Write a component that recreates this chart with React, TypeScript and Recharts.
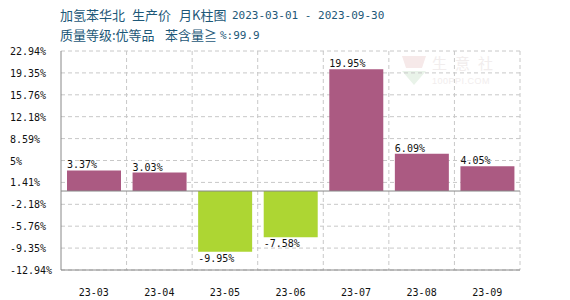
import React from 'react';
import {
  BarChart,
  Bar,
  XAxis,
  YAxis,
  CartesianGrid,
  ReferenceLine,
  LabelList,
  Cell,
} from 'recharts';

const months = ['23-03', '23-04', '23-05', '23-06', '23-07', '23-08', '23-09'];
const changes = [3.37, 3.03, -9.95, -7.58, 19.95, 6.09, 4.05];
const yTicks = [-12.94, -9.35, -5.76, -2.18, 1.41, 5, 8.59, 12.18, 15.76, 19.35, 22.94];

const data = months.map((m, i) => ({ month: m, change: changes[i] }));

const fmt = (v: number) => (Number.isInteger(v) ? `${v}%` : `${v.toFixed(2)}%`);

const mono = '"DejaVu Sans Mono", monospace';
const cjk = '"Noto Sans CJK SC", sans-serif';
const titleColor = '#1d5878';

function YTick(props: any) {
  const { y, payload } = props;
  return (
    <text x={10} y={y} dy={4} textAnchor="start" fontSize={10} fontFamily={mono} fill="#111">
      {fmt(payload.value)}
    </text>
  );
}

function XTick(props: any) {
  const { x, y, payload } = props;
  return (
    <text x={x} y={y} dy={18} textAnchor="middle" fontSize={10} fontFamily={mono} fill="#111">
      {payload.value}
    </text>
  );
}

function BarLabel(props: any) {
  const { x, y, height, value } = props;
  const top = Math.min(y, y + height);
  const bottom = Math.max(y, y + height);
  const ty = value >= 0 ? top - 2 : bottom + 10;
  return (
    <text x={x} y={ty} fontSize={10} fontFamily={mono} fill="#111">
      {value.toFixed(2)}%
    </text>
  );
}

function T({ x, y, font, size, children }: any) {
  return (
    <span style={{ position: 'absolute', left: x, top: y, fontFamily: font, fontSize: size, color: titleColor, whiteSpace: 'pre', lineHeight: '16px' }}>
      {children}
    </span>
  );
}

export default function App() {
  return (
    <div style={{ position: 'absolute', left: 0, top: 0, width: 570, height: 300, background: '#fff' }}>
      <T x={60} y={7} font={cjk} size={13}>加氢苯华北</T>
      <T x={132} y={7} font={cjk} size={13}>生产价</T>
      <T x={179} y={7} font={cjk} size={13}>月K柱图</T>
      <T x={232} y={8} font={mono} size={11}>2023-03-01 - 2023-09-30</T>
      <T x={60} y={27} font={cjk} size={13}>质量等级:优等品</T>
      <T x={165} y={27} font={cjk} size={13}>苯含量≧</T>
      <T x={220} y={28} font={mono} size={11}>%:99.9</T>
      <svg style={{ position: 'absolute', left: 400, top: 54 }} width={28} height={32}>
        <polygon points="2,2 26,2 22,14 6,14" fill="#f6e9e9" />
        <polygon points="2,17 26,17 14,31" fill="#e9f3e9" />
      </svg>
      <div style={{ position: 'absolute', left: 432, top: 54, fontSize: 15, lineHeight: '18px', color: '#f1eded', fontFamily: cjk, letterSpacing: 8 }}>
        生意社
      </div>
      <div style={{ position: 'absolute', left: 432, top: 76, fontSize: 9, lineHeight: '10px', color: '#f1eded', fontFamily: 'Arial, sans-serif', letterSpacing: 0.5 }}>
        100PPI.COM
      </div>
      <BarChart
        width={570}
        height={300}
        data={data}
        margin={{ top: 51, right: 50, left: 0, bottom: 0 }}
      >
        <CartesianGrid
          stroke="#c8c8c8"
          strokeDasharray="4 3"
          verticalCoordinatesGenerator={({ offset }: any) =>
            months.map((_, i) => offset.left + ((i + 1) * offset.width) / months.length)
          }
        />
        <XAxis
          dataKey="month"
          height={30}
          axisLine={{ stroke: '#888' }}
          tickLine={false}
          tick={<XTick />}
          interval={0}
        />
        <YAxis
          width={61}
          domain={[-12.94, 22.94]}
          ticks={yTicks}
          interval={0}
          allowDataOverflow
          axisLine={{ stroke: '#888' }}
          tickLine={false}
          tick={<YTick />}
        />
        <ReferenceLine y={0} stroke="#888" />
        <Bar dataKey="change" barSize={54} isAnimationActive={false}>
          {data.map((d) => (
            <Cell key={d.month} fill={d.change >= 0 ? '#ab5a82' : '#add633'} />
          ))}
          <LabelList dataKey="change" content={<BarLabel />} />
        </Bar>
      </BarChart>
    </div>
  );
}
